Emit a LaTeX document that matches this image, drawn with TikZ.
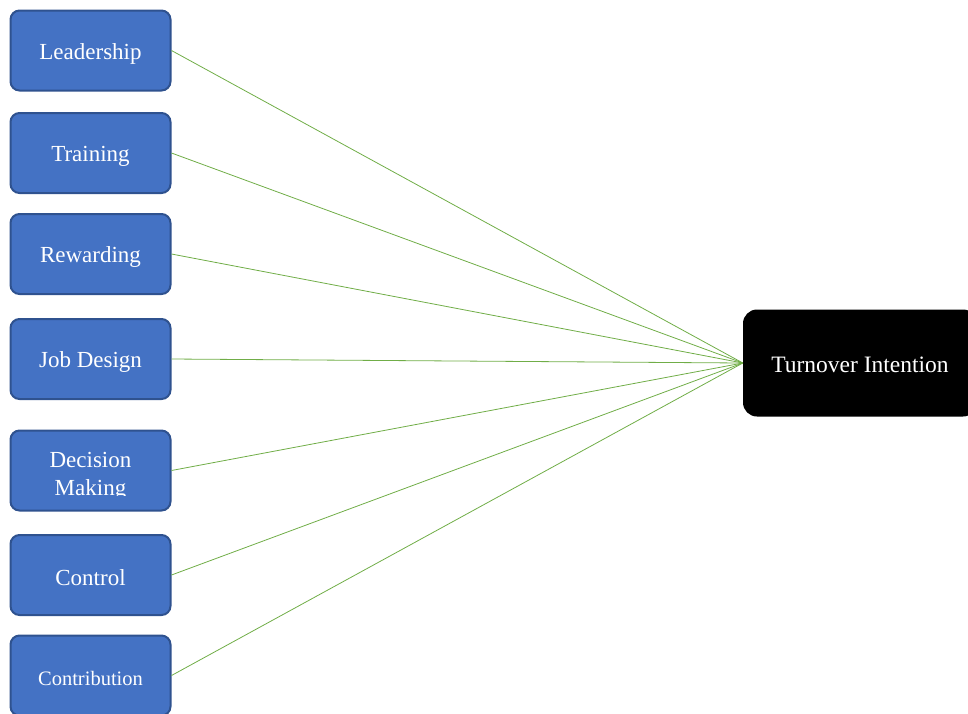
\documentclass[tikz,border=0pt]{standalone}
\usepackage{fontspec}
\setmainfont{Liberation Serif}
\definecolor{factorfill}{HTML}{4472C4}
\definecolor{factorborder}{HTML}{2F528F}
\definecolor{linkgreen}{HTML}{70AD47}
\tikzstyle{factor}=[draw=factorborder,line width=2pt,fill=factorfill,rounded corners=9pt,minimum width=160pt,minimum height=80pt]
\tikzstyle{factortext}=[text=white,align=center,font=\fontsize{23}{28}\selectfont]
\tikzstyle{outcome}=[fill=black,rounded corners=14pt,minimum width=234pt,minimum height=107pt]
\tikzstyle{link}=[draw=linkgreen,line width=0.8pt]
\begin{document}
\begin{tikzpicture}[x=1pt,y=-1pt]
  \useasboundingbox (0,0) rectangle (968,713);
  \clip (0,0) rectangle (968,713);
  \node[factor] (leader) at (90.5,50.5) {};
  \node[factor] (training) at (90.5,153) {};
  \node[factor] (reward) at (90.5,254) {};
  \node[factor] (jobdesign) at (90.5,359) {};
  \node[factor] (decision) at (90.5,470.5) {};
  \node[factor] (control) at (90.5,575) {};
  \node[factor] (contrib) at (90.5,675.5) {};
  \node[factortext] (leadertext) at ([yshift=-3pt]leader.center) {Leadership};
  \node[factortext] (trainingtext) at ([yshift=-3pt]training.center) {Training};
  \node[factortext] (rewardtext) at ([yshift=-3pt]reward.center) {Rewarding};
  \node[factortext] (jobdesigntext) at ([yshift=-3pt]jobdesign.center) {Job Design};
  \begin{scope}
    \clip (10,430) rectangle (172,495); % text runs out of the box
    \node[factortext] (decisiontext) at (90.5,476) {Decision\\Making};
  \end{scope}
  \node[factortext] (controltext) at ([yshift=-3pt]control.center) {Control};
  \node[factortext,font=\fontsize{20.5}{24}\selectfont] (contribtext) at ([yshift=-3pt]contrib.center) {Contribution};
  \node[outcome] (turnover) at (860,363) {};
  \node[factortext,font=\fontsize{23.5}{28}\selectfont] (turnovertext) at ([yshift=-2pt]turnover.center) {Turnover Intention};
  \foreach \src in {leader,training,reward,jobdesign,decision,control,contrib} {
    \draw[link] (\src.east) -- (turnover.west);
  }
\end{tikzpicture}
\end{document}
